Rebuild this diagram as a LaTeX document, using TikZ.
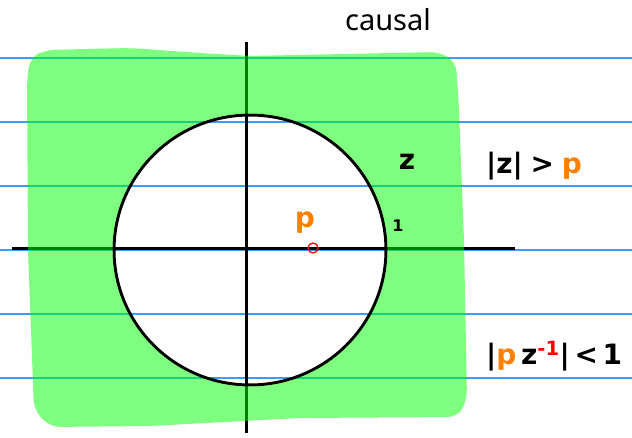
\documentclass[tikz,border=0pt]{standalone}
\usepackage{fontspec}
\setmainfont{Noto Sans}
\newfontfamily\penfont{DejaVu Sans}
\usepackage{xcolor}
\usetikzlibrary{positioning}
\definecolor{paperblue}{RGB}{60,155,255}
\definecolor{hlgreen}{RGB}{0,255,0}
\definecolor{penorange}{RGB}{255,128,0}

\begin{document}
\begin{tikzpicture}[
    x=1pt, y=-1pt,
    ruled/.style={paperblue, line width=1.4pt},
    axis/.style={black, line width=3pt},
    pen/.style={font=\penfont\bfseries\fontsize{28}{30}\selectfont, inner sep=0pt},
]
\useasboundingbox (0,0) rectangle (632,438);
% paper lines
\foreach \yy in {58,122,186,250,314,378}
    \draw[ruled] (0,\yy) -- (632,\yy);

% axes and unit circle
\coordinate (origin) at (250,250);
\draw[axis] (12,249) -- (515,249);
\draw[axis] (246,42) -- (246,433);
\draw[axis] (origin) circle[x radius=136pt, y radius=135pt];

% highlighted region |z| > p
\fill[hlgreen, opacity=0.5, even odd rule, rounded corners=10pt]
    (30,58) -- (45,50) -- (130,48) -- (200,53) -- (250,56) -- (440,52) -- (456,62)
    -- (459,110) -- (464,240) -- (467,400) -- (458,417) -- (300,418) -- (150,426)
    -- (50,427) -- (34,410) -- (28,250) -- (27,80) -- cycle
    (origin) circle[x radius=137.5pt, y radius=136.5pt];

% pole
\node[draw=red, line width=1.3pt, circle, minimum size=10pt, inner sep=0pt] (pole) at (313,248) {};
\node[pen, penorange, above left=10pt and -6pt of pole] (plabel) {p};

% labels
\node[font=\fontsize{29}{31}\selectfont] (title) at (388,20) {causal};
\node[pen] (zlabel) at (407,162) {z};
\node[pen, font=\penfont\bfseries\fontsize{16}{18}\selectfont] (one) at (398,226) {1};
\node[pen, anchor=west] (cond1) at (486,166) {|z|\;>\;\textcolor{penorange}{p}};
\node[pen, anchor=west] (cond2) at (486,356)
    {|\textcolor{penorange}{p}\,z\textsuperscript{\textcolor{red}{-1}}|\,<\,1};
\end{tikzpicture}
\end{document}
